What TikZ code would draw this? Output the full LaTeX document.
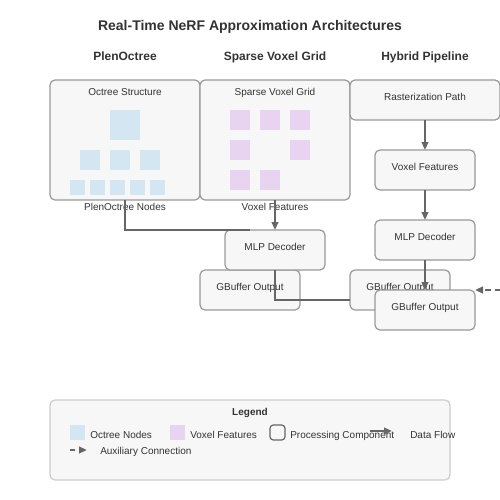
\documentclass[tikz,border=0pt]{standalone}
\usepackage{fontspec}
\setmainfont{Liberation Sans}
\usetikzlibrary{arrows.meta}

\definecolor{txt}{HTML}{333333}
\definecolor{boxfill}{HTML}{F7F7F7}
\definecolor{boxline}{HTML}{999999}
\definecolor{legline}{HTML}{CCCCCC}
\definecolor{octblue}{HTML}{D4E6F1}
\definecolor{voxpurple}{HTML}{E8D4F0}
\definecolor{flowgray}{HTML}{666666}

\begin{document}
\begin{tikzpicture}[x=0.75pt,y=-0.75pt,
  panel/.style={draw=boxline,fill=boxfill,rounded corners=3.75pt,line width=0.9pt,inner sep=0pt,outer sep=0pt},
  bigpanel/.style={panel,minimum width=112.5pt,minimum height=90pt},
  widepanel/.style={panel,minimum width=112.5pt,minimum height=30pt},
  smallpanel/.style={panel,minimum width=75pt,minimum height=30pt},
  title/.style={anchor=base,inner sep=0pt,text=txt,font=\fontsize{10.5}{12}\selectfont\bfseries},
  head/.style={anchor=base,inner sep=0pt,text=txt,font=\fontsize{9}{11}\selectfont\bfseries},
  lbl/.style={anchor=base,inner sep=0pt,text=txt,font=\fontsize{7.5}{9}\selectfont},
  leg/.style={lbl,anchor=base west},
  flow/.style={draw=flowgray,line width=1.5pt},
  arrowflow/.style={flow,-{Triangle[length=6pt,width=5pt]}},
  aux/.style={arrowflow,dash pattern=on 4pt off 3pt}]
\useasboundingbox (0,0) rectangle (500,500);

% headings
\node[title] (title) at (250,30) {Real-Time NeRF Approximation Architectures};
\node[head] (plenhead) at (125,60) {PlenOctree};
\node[head] (gridhead) at (275,60) {Sparse Voxel Grid};
\node[head] (hybhead) at (425,60) {Hybrid Pipeline};

% PlenOctree
\node[bigpanel] (octree) at (125,140) {};
\node[lbl] (octreelbl) at (125,95) {Octree Structure};
\fill[octblue] (110,110) rectangle (140,140);
\fill[octblue] (80,150) rectangle (100,170);
\fill[octblue] (110,150) rectangle (130,170);
\fill[octblue] (140,150) rectangle (160,170);
\fill[octblue] (70,180) rectangle (85,195);
\fill[octblue] (90,180) rectangle (105,195);
\fill[octblue] (110,180) rectangle (125,195);
\fill[octblue] (130,180) rectangle (145,195);
\fill[octblue] (150,180) rectangle (165,195);
\node[lbl] (octout) at (125,210) {PlenOctree Nodes};

% sparse voxel grid
\node[bigpanel] (grid) at (275,140) {};
\node[lbl] (gridlbl) at (275,95) {Sparse Voxel Grid};
\fill[voxpurple] (230,110) rectangle (250,130);
\fill[voxpurple] (260,110) rectangle (280,130);
\fill[voxpurple] (290,110) rectangle (310,130);
\fill[voxpurple] (230,140) rectangle (250,160);
\fill[voxpurple] (290,140) rectangle (310,160);
\fill[voxpurple] (230,170) rectangle (250,190);
\fill[voxpurple] (260,170) rectangle (280,190);
\node[lbl] (gridout) at (275,210) {Voxel Features};

% hybrid
\node[widepanel] (raster) at (425,100) {};
\node[lbl] (rasterlbl) at (425,100) {Rasterization Path};
\node[smallpanel] (hvox) at (425,170) {};
\node[lbl] (hvoxlbl) at (425,170) {Voxel Features};
\node[smallpanel] (hmlp) at (425,240) {};
\node[lbl] (hmlplbl) at (425,240) {MLP Decoder};

% decoders and outputs
\node[smallpanel] (gbufL) at (250,290) {};
\node[lbl] (gbufLlbl) at (250,290) {GBuffer Output};
\node[smallpanel] (mlp) at (275,250) {};
\node[lbl] (mlplbl) at (275,250) {MLP Decoder};
\node[smallpanel] (gbufM) at (400,290) {};
\node[lbl] (gbufMlbl) at (400,290) {GBuffer Output};
\node[smallpanel] (gbufR) at (425,310) {};
\node[lbl] (gbufRlbl) at (425,310) {GBuffer Output};

% connectors
\coordinate (octjoin) at (250,230);
\coordinate (midjoin) at (350,300);
\coordinate (auxin) at (500,290);
\draw[flow] (octree.south) |- (octjoin);
\draw[arrowflow] (grid.south) -- (mlp.north);
\draw[flow] (mlp.south) |- (midjoin);
\draw[arrowflow] (raster.south) -- (hvox.north);
\draw[arrowflow] (hvox.south) -- (hmlp.north);
\draw[arrowflow] (hmlp.south) -- (gbufR.north);
\draw[aux] (auxin) -- (gbufR.north east);

% legend
\node[panel,draw=legline,minimum width=300pt,minimum height=60pt] (legend) at (250,440) {};
\node[lbl,font=\fontsize{7.5}{9}\selectfont\bfseries] (legtitle) at (250,415) {Legend};
\fill[octblue] (70,425) rectangle (85,440);
\node[leg] (legoct) at (90,438) {Octree Nodes};
\fill[voxpurple] (170,425) rectangle (185,440);
\node[leg] (legvox) at (190,438) {Voxel Features};
\draw[flowgray,line width=0.9pt,rounded corners=2.5pt] (270,425) rectangle (285,440);
\node[leg] (legproc) at (290,438) {Processing Component};
\coordinate (flowa) at (370,431);
\coordinate (flowb) at (392,431);
\draw[arrowflow] (flowa) -- (flowb);
\node[leg] (legflow) at (410,438) {Data Flow};
\coordinate (auxa) at (70,450);
\coordinate (auxb) at (87,450);
\draw[aux] (auxa) -- (auxb);
\node[leg] (legaux) at (100,454) {Auxiliary Connection};
\end{tikzpicture}
\end{document}
